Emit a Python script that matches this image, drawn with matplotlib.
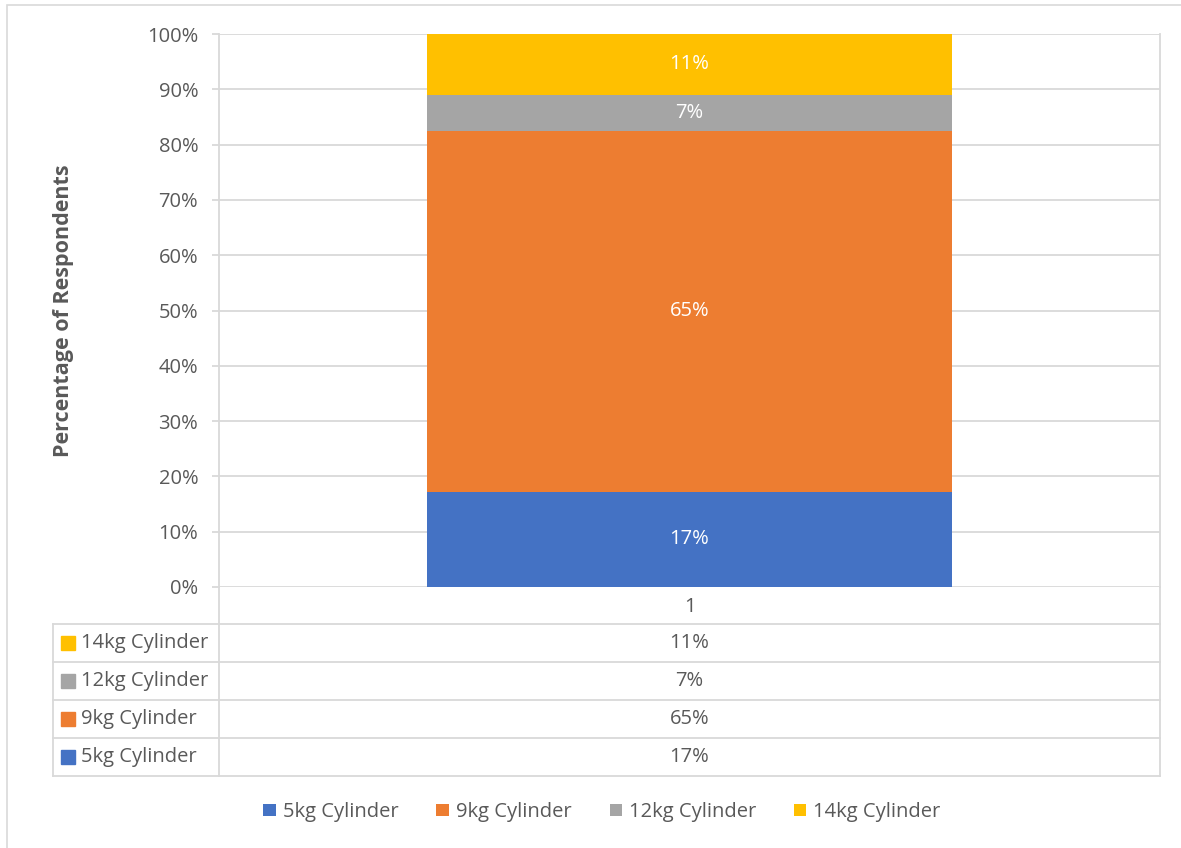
"""Stacked column of cylinder sizes with an Excel-style data table"""

import matplotlib
matplotlib.use("Agg")
import matplotlib.pyplot as plt
from matplotlib.lines import Line2D
from matplotlib.patches import Rectangle

series = ["5kg Cylinder", "9kg Cylinder", "12kg Cylinder", "14kg Cylinder"]
values = [0.172, 0.653, 0.065, 0.110]
labels = ["17%", "65%", "7%", "11%"]
colors = ["#4472C4", "#ED7D31", "#A5A5A5", "#FFC000"]
category = ["1"]
yticks = [0, 0.1, 0.2, 0.3, 0.4, 0.5, 0.6, 0.7, 0.8, 0.9, 1.0]

W, H = 1181, 848
grid_c = "#D9D9D9"
text_c = "#595959"
plt.rcParams["font.family"] = ["Open Sans", "DejaVu Sans"]
fs = 14.5


def fx(px):
    return px / W


def fy(py):
    return 1 - py / H


fig = plt.figure(figsize=(W / 100, H / 100), dpi=100)

# outer chart border (top and left visible)
fig.patches.append(Rectangle((fx(7), fy(900)), 1.2, fy(5) - fy(900), transform=fig.transFigure,
                             fill=False, edgecolor=grid_c, lw=1.2))

left, right, top, bottom = 219, 1160, 34, 587
ax = fig.add_axes([fx(left), fy(bottom), fx(right) - fx(left), fy(top) - fy(bottom)])

base = 0
for name, v, lab, c in zip(series, values, labels, colors):
    ax.bar(0, v, width=0.558, bottom=base, color=c, label=name, zorder=3)
    ax.text(0, base + v / 2, lab, color="white", ha="center", va="center", fontsize=fs, zorder=4)
    base += v

ax.set_xlim(-0.5, 0.5)
ax.set_ylim(0, 1)
ax.set_yticks(yticks)
ax.set_yticklabels([f"{int(round(t * 100))}%" for t in yticks], color=text_c, fontsize=fs)
ax.tick_params(axis="y", length=5, width=1.3, color=grid_c, pad=10)
ax.set_xticks([])
ax.yaxis.grid(True, color=grid_c, lw=1.3, zorder=0)
for s in ["top", "bottom"]:
    ax.spines[s].set_visible(False)
ax.spines["left"].set_color(grid_c)
ax.spines["right"].set_color(grid_c)
ax.spines["left"].set_linewidth(1.3)
ax.spines["right"].set_linewidth(1.3)
ax.set_ylabel("Percentage of Respondents", color=text_c, fontsize=15.5, fontweight="bold")
ax.yaxis.set_label_coords((74 - left) / (right - left), 0.5)

# data table below the plot
tr = fig.transFigure
row_edges = [624, 662, 700, 738, 776]
fig.add_artist(Line2D([fx(left), fx(left)], [fy(bottom), fy(row_edges[-1])], transform=tr, color=grid_c, lw=1.3))
fig.add_artist(Line2D([fx(right), fx(right)], [fy(bottom), fy(row_edges[-1])], transform=tr, color=grid_c, lw=1.3))
fig.add_artist(Line2D([fx(53), fx(53)], [fy(row_edges[0]), fy(row_edges[-1])], transform=tr, color=grid_c, lw=1.3))
for e in row_edges:
    fig.add_artist(Line2D([fx(53), fx(right)], [fy(e), fy(e)], transform=tr, color=grid_c, lw=1.3))
fig.text(fx((left + right) / 2), fy((bottom + row_edges[0]) / 2 + 1), category[0], color=text_c,
         fontsize=fs, ha="center", va="center")

order = list(range(len(series)))[::-1]
for r, i in enumerate(order):
    yc = (row_edges[r] + row_edges[r + 1]) / 2
    fig.patches.append(Rectangle((fx(61), fy(yc + 7)), fx(14), fy(yc - 7) - fy(yc + 7),
                                 transform=tr, color=colors[i]))
    fig.text(fx(81), fy(yc), series[i], color=text_c, fontsize=fs, ha="left", va="center")
    fig.text(fx((left + right) / 2), fy(yc), labels[i], color=text_c, fontsize=fs,
             ha="center", va="center")

handles, names = ax.get_legend_handles_labels()
fig.legend(handles, names, loc="center", bbox_to_anchor=(fx(602), fy(812)), ncol=4, frameon=False,
           fontsize=fs, labelcolor=text_c, handlelength=0.6, handleheight=0.6,
           handletextpad=0.35, columnspacing=1.9)

fig.savefig("out.png", dpi=100)
